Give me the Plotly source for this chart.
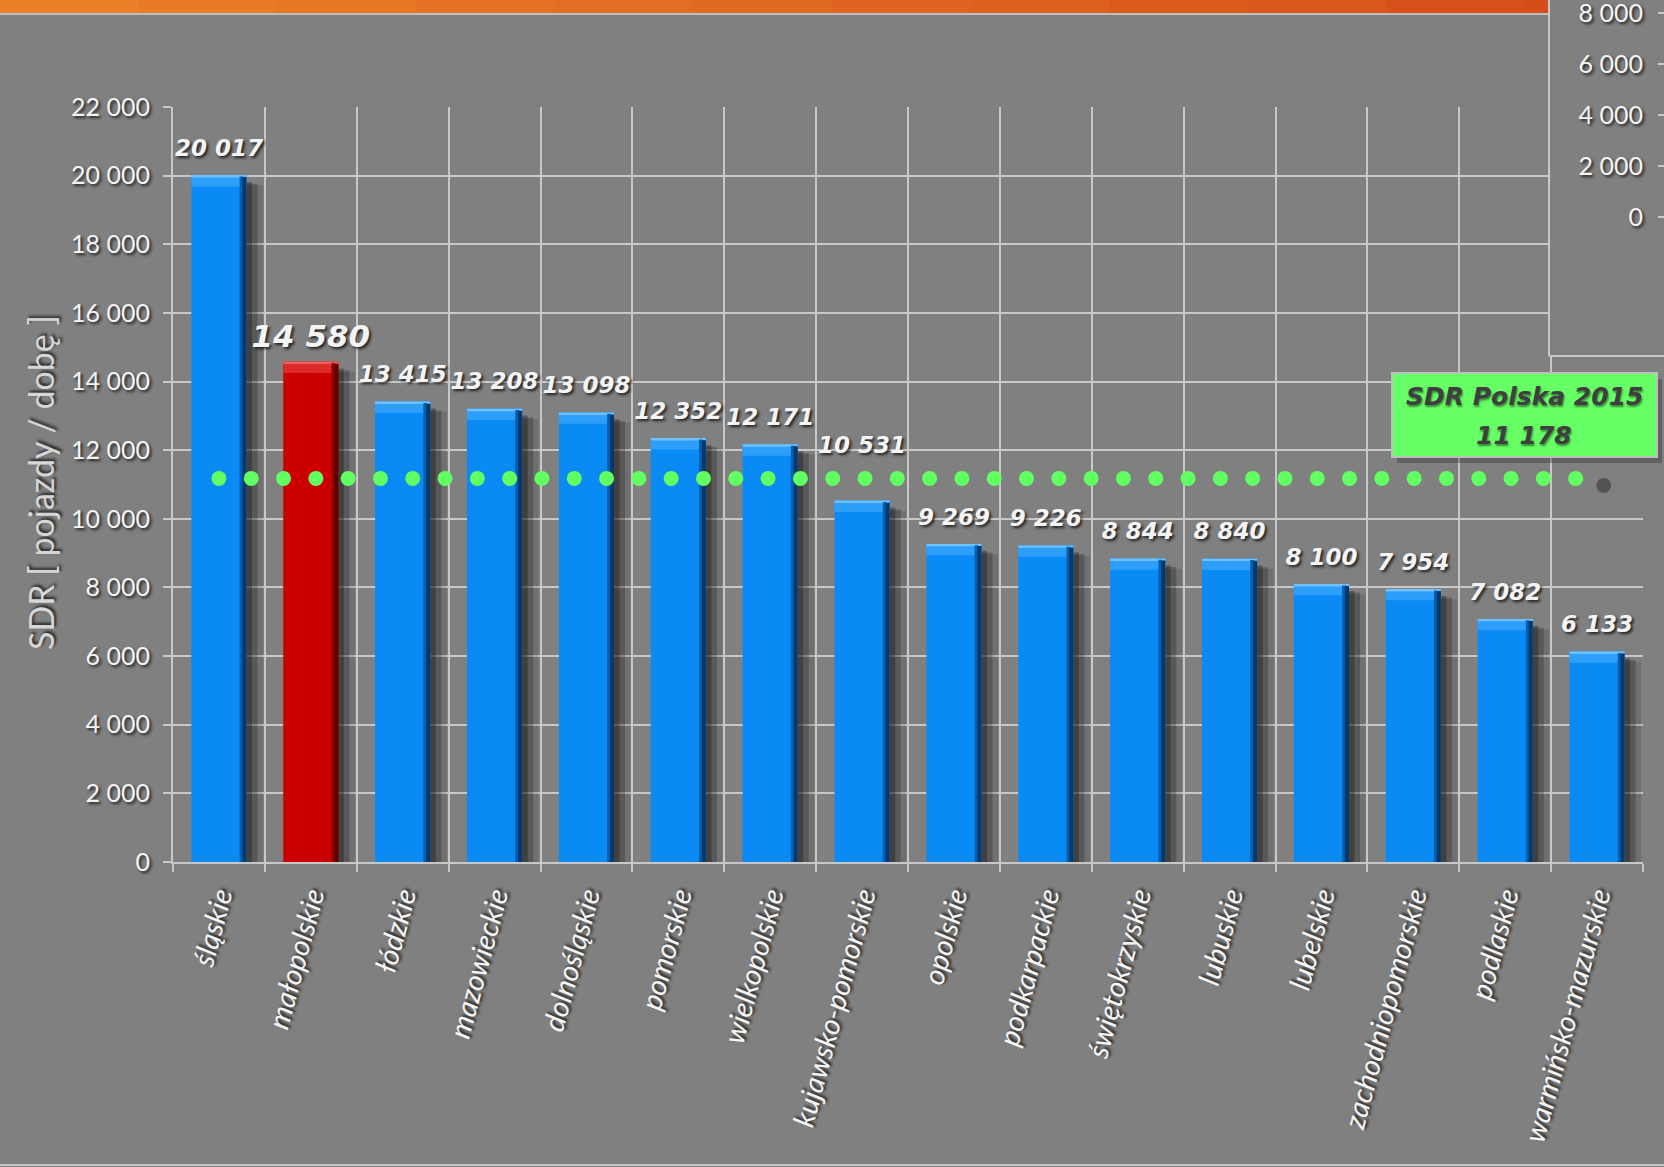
import numpy as np
import plotly.graph_objects as go

# ---------------- data ----------------
regions = ["śląskie", "małopolskie", "łódzkie", "mazowieckie", "dolnośląskie",
           "pomorskie", "wielkopolskie", "kujawsko-pomorskie", "opolskie",
           "podkarpackie", "świętokrzyskie", "lubuskie", "lubelskie",
           "zachodniopomorskie", "podlaskie", "warmińsko-mazurskie"]
sdr = [20017, 14580, 13415, 13208, 13098, 12352, 12171, 10531, 9269,
       9226, 8844, 8840, 8100, 7954, 7082, 6133]
highlight = "małopolskie"
sdr_poland = 11178
avg_title = "SDR Polska 2015"
y_ticks = list(range(0, 22001, 2000))
inset_ticks = [0, 2000, 4000, 6000, 8000]
y_title = "SDR [ pojazdy / dobę ]"

# ---------------- helpers (layout in pixels) ----------------
W, H = 1664, 1167
def px(x):
    return x / W
def py(y):
    return 1 - y / H

def fmt(v):
    return f"{v:,}".replace(",", " ")

BG = "#808080"
GRID = "#C8C8C8"
TXT = "#F4F4F4"
SH = "2px 2px 3px rgba(0,0,0,0.75)"

vals = np.array(sdr, dtype=float)
is_hi = [r == highlight for r in regions]
main_col = ["#CC0000" if h else "#0A8AF5" for h in is_hi]
bevel_col = ["#DA2A2A" if h else "#2E9EFB" for h in is_hi]
hl_col = ["#F06060" if h else "#6FC2FF" for h in is_hi]
strip_col = ["#5A0000" if h else "#05386C" for h in is_hi]
strip2_col = ["#940000" if h else "#0660B2" for h in is_hi]

fig = go.Figure()

def add_bar(y, base, offset, width, color):
    fig.add_trace(go.Bar(x=regions, y=y, base=base, offset=offset, width=width,
                         marker=dict(color=color, line=dict(width=0)),
                         hoverinfo="skip", xaxis="x", yaxis="y"))

# shadows
add_bar(vals - 300, 0, -0.12, 0.6, "rgba(30,30,30,0.16)")
add_bar(vals - 250, 0, -0.18, 0.6, "rgba(30,30,30,0.28)")
add_bar(vals - 200, 0, -0.24, 0.6, "rgba(20,20,20,0.35)")
# main bars
add_bar(vals, 0, -0.3, 0.6, main_col)
# top bevel
add_bar([330] * len(vals), vals - 330, -0.3, 0.6, bevel_col)
add_bar([70] * len(vals), vals - 70, -0.3, 0.6, hl_col)
# right dark edge
add_bar(vals - 40, 0, 0.225, 0.04, strip2_col)
add_bar(vals - 60, 0, 0.255, 0.045, strip_col)

# dotted average line on an overlaid numeric axis
dot_spacing = 0.3516
n_dots = 43
dots_x = np.arange(n_dots) * dot_spacing
fig.add_trace(go.Scatter(x=[dots_x[-1] + 0.305], y=[sdr_poland - 204], mode="markers",
                         marker=dict(size=15, color="rgba(55,55,55,0.6)"),
                         hoverinfo="skip", xaxis="x2", yaxis="y"))
fig.add_trace(go.Scatter(x=dots_x, y=[sdr_poland] * n_dots, mode="markers",
                         marker=dict(size=15, color="#62FF62"),
                         hoverinfo="skip", xaxis="x2", yaxis="y"))

# value labels (lifted above the average line when they would collide with it)
lift = [66 if (sdr_poland - 1200 < v < sdr_poland) else (10 if h else 20)
        for v, h in zip(sdr, is_hi)]
fig.add_trace(go.Scatter(
    x=regions, y=sdr, mode="markers+text",
    marker=dict(size=lift, opacity=0),
    text=[fmt(v) for v in sdr], textposition="top center",
    textfont=dict(family="DejaVu Sans", weight="bold", style="italic",
                  size=[31 if h else 23 for h in is_hi], color=TXT, shadow=SH),
    hoverinfo="skip", xaxis="x", yaxis="y", cliponaxis=False))

# inset (fragment of another chart, top right)
fig.add_trace(go.Scatter(x=[], y=[], xaxis="x3", yaxis="y2", hoverinfo="skip"))

# ---------------- shapes ----------------
shapes = []
n_steps = 12
c0 = np.array([236, 128, 40]); c1 = np.array([213, 78, 26])
for i in range(n_steps):
    c = c0 + (c1 - c0) * i / (n_steps - 1)
    shapes.append(dict(type="rect", xref="paper", yref="paper",
                       x0=i / n_steps, x1=(i + 1) / n_steps + 0.001, y0=py(13), y1=1,
                       fillcolor=f"rgb({int(c[0])},{int(c[1])},{int(c[2])})",
                       line=dict(width=0), layer="below"))
shapes.append(dict(type="line", xref="paper", yref="paper", x0=0, x1=1, y0=py(14), y1=py(14),
                   line=dict(color="#BEBEBE", width=2), layer="below"))
shapes.append(dict(type="line", xref="paper", yref="paper", x0=0, x1=1, y0=py(1165), y1=py(1165),
                   line=dict(color="#C4C4C4", width=2), layer="below"))
shapes.append(dict(type="line", xref="paper", yref="paper", x0=px(1549), x1=px(1549), y0=py(356), y1=1,
                   line=dict(color=GRID, width=2), layer="above"))
shapes.append(dict(type="line", xref="paper", yref="paper", x0=px(1549), x1=1, y0=py(356), y1=py(356),
                   line=dict(color=GRID, width=2), layer="above"))
shapes.append(dict(type="rect", xref="paper", yref="paper", x0=px(1397), x1=px(1662), y0=py(463), y1=py(379),
                   fillcolor="rgba(40,40,40,0.35)", line=dict(width=0), layer="above"))
shapes.append(dict(type="rect", xref="paper", yref="paper", x0=px(1392), x1=px(1657), y0=py(457), y1=py(373),
                   fillcolor="#66FF66", line=dict(color="#BFBFBF", width=2), layer="above"))

annotations = [
    dict(text=avg_title, x=px(1524), y=py(396), xref="paper", yref="paper", showarrow=False,
         xanchor="center", yanchor="middle",
         font=dict(family="DejaVu Sans", weight="bold", style="italic", size=25, color="#3F3F3F",
                   shadow="1px 2px 2px rgba(0,0,0,0.45)")),
    dict(text=fmt(sdr_poland), x=px(1524), y=py(435), xref="paper", yref="paper", showarrow=False,
         xanchor="center", yanchor="middle",
         font=dict(family="DejaVu Sans", weight="bold", style="italic", size=25, color="#3F3F3F",
                   shadow="1px 2px 2px rgba(0,0,0,0.45)")),
    dict(text=y_title, x=px(40), y=py(483), xref="paper", yref="paper", showarrow=False,
         textangle=-90, xanchor="center", yanchor="middle",
         font=dict(family="Lato", size=34, color="#D6D6D6", shadow=SH)),
]

fig.update_layout(
    width=W, height=H, autosize=False,
    margin=dict(l=0, r=0, t=0, b=0, pad=0),
    paper_bgcolor=BG, plot_bgcolor=BG,
    barmode="overlay", showlegend=False, separators=", ",
    shapes=shapes, annotations=annotations,
    xaxis=dict(domain=[px(173), px(1643)], type="category", categoryorder="array",
               categoryarray=regions, range=[-0.5, 15.5], tickson="boundaries",
               showgrid=True, gridcolor=GRID, gridwidth=2,
               ticks="outside", ticklen=8, tickwidth=2, tickcolor=GRID,
               showline=True, linecolor=GRID, linewidth=2,
               tickangle=-75, ticklabelstandoff=4,
               tickfont=dict(family="Lato", style="italic", size=29, color=TXT, shadow=SH),
               anchor="y", fixedrange=True, automargin=False),
    xaxis2=dict(overlaying="x", range=[-0.5, 15.5], visible=False, anchor="y", fixedrange=True),
    yaxis=dict(domain=[py(862), py(107)], range=[0, 22000], tickvals=y_ticks, tickformat=",d",
               showgrid=True, gridcolor=GRID, gridwidth=2, zeroline=False,
               ticks="outside", ticklen=8, tickwidth=2, tickcolor=GRID,
               showline=True, linecolor=GRID, linewidth=2, ticklabelstandoff=8,
               tickfont=dict(family="Lato", size=25, color=TXT, shadow=SH),
               anchor="x", fixedrange=True, automargin=False),
    xaxis3=dict(domain=[px(1549), 1], range=[0, 1], visible=False, anchor="y2", fixedrange=True),
    yaxis2=dict(domain=[py(356), 1], range=[-5451, 8522], tickvals=inset_ticks, tickformat=",d",
                anchor="free", position=1.0, side="left", showgrid=False, zeroline=False,
                showline=False, ticks="outside", ticklen=6, tickwidth=2, tickcolor=GRID,
                ticklabelstandoff=10, ticklabeloverflow="allow",
                tickfont=dict(family="Lato", size=25, color=TXT, shadow=SH),
                fixedrange=True, automargin=False),
)

fig.write_html("out.html", config={"displayModeBar": False},
               post_script="document.body.style.margin='0';document.body.style.overflow='hidden';")
